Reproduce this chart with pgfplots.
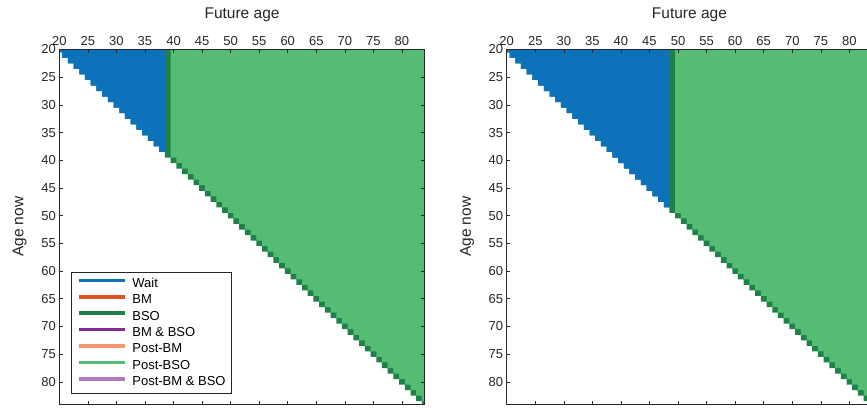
\documentclass[border=0pt]{standalone}
\usepackage{fontspec}
\setmainfont{Liberation Sans}
\usepackage{pgfplots}
\pgfplotsset{compat=1.18}
\usepackage{pgfplotstable}

\definecolor{cWait}{RGB}{14,114,186}
\definecolor{cBM}{RGB}{217,84,30}
\definecolor{cBSO}{RGB}{31,128,73}
\definecolor{cBMBSO}{RGB}{126,47,142}
\definecolor{cPostBM}{RGB}{247,150,110}
\definecolor{cPostBSO}{RGB}{85,188,116}
\definecolor{cPostBMBSO}{RGB}{176,122,190}
\definecolor{axgray}{RGB}{38,38,38}

% Upper triangle (future age >= age now), cells centred on integer ages
\pgfplotstableread[row sep=\\]{
x y\\
19.5 19.5\\ 84.5 19.5\\ 84.5 84.5\\
83.5 84.5\\ 83.5 83.5\\ 82.5 83.5\\ 82.5 82.5\\ 81.5 82.5\\ 81.5 81.5\\ 80.5 81.5\\ 80.5 80.5\\
79.5 80.5\\ 79.5 79.5\\ 78.5 79.5\\ 78.5 78.5\\ 77.5 78.5\\ 77.5 77.5\\ 76.5 77.5\\ 76.5 76.5\\ 75.5 76.5\\ 75.5 75.5\\
74.5 75.5\\ 74.5 74.5\\ 73.5 74.5\\ 73.5 73.5\\ 72.5 73.5\\ 72.5 72.5\\ 71.5 72.5\\ 71.5 71.5\\ 70.5 71.5\\ 70.5 70.5\\
69.5 70.5\\ 69.5 69.5\\ 68.5 69.5\\ 68.5 68.5\\ 67.5 68.5\\ 67.5 67.5\\ 66.5 67.5\\ 66.5 66.5\\ 65.5 66.5\\ 65.5 65.5\\
64.5 65.5\\ 64.5 64.5\\ 63.5 64.5\\ 63.5 63.5\\ 62.5 63.5\\ 62.5 62.5\\ 61.5 62.5\\ 61.5 61.5\\ 60.5 61.5\\ 60.5 60.5\\
59.5 60.5\\ 59.5 59.5\\ 58.5 59.5\\ 58.5 58.5\\ 57.5 58.5\\ 57.5 57.5\\ 56.5 57.5\\ 56.5 56.5\\ 55.5 56.5\\ 55.5 55.5\\
54.5 55.5\\ 54.5 54.5\\ 53.5 54.5\\ 53.5 53.5\\ 52.5 53.5\\ 52.5 52.5\\ 51.5 52.5\\ 51.5 51.5\\ 50.5 51.5\\ 50.5 50.5\\
49.5 50.5\\ 49.5 49.5\\ 48.5 49.5\\ 48.5 48.5\\ 47.5 48.5\\ 47.5 47.5\\ 46.5 47.5\\ 46.5 46.5\\ 45.5 46.5\\ 45.5 45.5\\
44.5 45.5\\ 44.5 44.5\\ 43.5 44.5\\ 43.5 43.5\\ 42.5 43.5\\ 42.5 42.5\\ 41.5 42.5\\ 41.5 41.5\\ 40.5 41.5\\ 40.5 40.5\\
39.5 40.5\\ 39.5 39.5\\ 38.5 39.5\\ 38.5 38.5\\ 37.5 38.5\\ 37.5 37.5\\ 36.5 37.5\\ 36.5 36.5\\ 35.5 36.5\\ 35.5 35.5\\
34.5 35.5\\ 34.5 34.5\\ 33.5 34.5\\ 33.5 33.5\\ 32.5 33.5\\ 32.5 32.5\\ 31.5 32.5\\ 31.5 31.5\\ 30.5 31.5\\ 30.5 30.5\\
29.5 30.5\\ 29.5 29.5\\ 28.5 29.5\\ 28.5 28.5\\ 27.5 28.5\\ 27.5 27.5\\ 26.5 27.5\\ 26.5 26.5\\ 25.5 26.5\\ 25.5 25.5\\
24.5 25.5\\ 24.5 24.5\\ 23.5 24.5\\ 23.5 23.5\\ 22.5 23.5\\ 22.5 22.5\\ 21.5 22.5\\ 21.5 21.5\\ 20.5 21.5\\ 20.5 20.5\\
19.5 20.5\\ 19.5 19.5\\
}\Atab

% Wait region, left panel (future age 20..38)
\pgfplotstableread[row sep=\\]{
x y\\
19.5 19.5\\ 38.5 19.5\\ 38.5 38.5\\
37.5 38.5\\ 37.5 37.5\\ 36.5 37.5\\ 36.5 36.5\\ 35.5 36.5\\ 35.5 35.5\\
34.5 35.5\\ 34.5 34.5\\ 33.5 34.5\\ 33.5 33.5\\ 32.5 33.5\\ 32.5 32.5\\ 31.5 32.5\\ 31.5 31.5\\ 30.5 31.5\\ 30.5 30.5\\
29.5 30.5\\ 29.5 29.5\\ 28.5 29.5\\ 28.5 28.5\\ 27.5 28.5\\ 27.5 27.5\\ 26.5 27.5\\ 26.5 26.5\\ 25.5 26.5\\ 25.5 25.5\\
24.5 25.5\\ 24.5 24.5\\ 23.5 24.5\\ 23.5 23.5\\ 22.5 23.5\\ 22.5 22.5\\ 21.5 22.5\\ 21.5 21.5\\ 20.5 21.5\\ 20.5 20.5\\
19.5 20.5\\ 19.5 19.5\\
}\Bone

% Wait region, right panel (future age 20..48)
\pgfplotstableread[row sep=\\]{
x y\\
19.5 19.5\\ 48.5 19.5\\ 48.5 48.5\\
47.5 48.5\\ 47.5 47.5\\ 46.5 47.5\\ 46.5 46.5\\ 45.5 46.5\\ 45.5 45.5\\
44.5 45.5\\ 44.5 44.5\\ 43.5 44.5\\ 43.5 43.5\\ 42.5 43.5\\ 42.5 42.5\\ 41.5 42.5\\ 41.5 41.5\\ 40.5 41.5\\ 40.5 40.5\\
39.5 40.5\\ 39.5 39.5\\ 38.5 39.5\\ 38.5 38.5\\ 37.5 38.5\\ 37.5 37.5\\ 36.5 37.5\\ 36.5 36.5\\ 35.5 36.5\\ 35.5 35.5\\
34.5 35.5\\ 34.5 34.5\\ 33.5 34.5\\ 33.5 33.5\\ 32.5 33.5\\ 32.5 32.5\\ 31.5 32.5\\ 31.5 31.5\\ 30.5 31.5\\ 30.5 30.5\\
29.5 30.5\\ 29.5 29.5\\ 28.5 29.5\\ 28.5 28.5\\ 27.5 28.5\\ 27.5 27.5\\ 26.5 27.5\\ 26.5 26.5\\ 25.5 26.5\\ 25.5 25.5\\
24.5 25.5\\ 24.5 24.5\\ 23.5 24.5\\ 23.5 23.5\\ 22.5 23.5\\ 22.5 22.5\\ 21.5 22.5\\ 21.5 21.5\\ 20.5 21.5\\ 20.5 20.5\\
19.5 20.5\\ 19.5 19.5\\
}\Btwo

% Post-BSO region, left panel (future age >= 40, strictly above diagonal)
\pgfplotstableread[row sep=\\]{
x y\\
39.5 19.5\\ 84.5 19.5\\ 84.5 83.5\\
83.5 83.5\\ 83.5 82.5\\ 82.5 82.5\\ 82.5 81.5\\ 81.5 81.5\\ 81.5 80.5\\ 80.5 80.5\\ 80.5 79.5\\
79.5 79.5\\ 79.5 78.5\\ 78.5 78.5\\ 78.5 77.5\\ 77.5 77.5\\ 77.5 76.5\\ 76.5 76.5\\ 76.5 75.5\\ 75.5 75.5\\ 75.5 74.5\\
74.5 74.5\\ 74.5 73.5\\ 73.5 73.5\\ 73.5 72.5\\ 72.5 72.5\\ 72.5 71.5\\ 71.5 71.5\\ 71.5 70.5\\ 70.5 70.5\\ 70.5 69.5\\
69.5 69.5\\ 69.5 68.5\\ 68.5 68.5\\ 68.5 67.5\\ 67.5 67.5\\ 67.5 66.5\\ 66.5 66.5\\ 66.5 65.5\\ 65.5 65.5\\ 65.5 64.5\\
64.5 64.5\\ 64.5 63.5\\ 63.5 63.5\\ 63.5 62.5\\ 62.5 62.5\\ 62.5 61.5\\ 61.5 61.5\\ 61.5 60.5\\ 60.5 60.5\\ 60.5 59.5\\
59.5 59.5\\ 59.5 58.5\\ 58.5 58.5\\ 58.5 57.5\\ 57.5 57.5\\ 57.5 56.5\\ 56.5 56.5\\ 56.5 55.5\\ 55.5 55.5\\ 55.5 54.5\\
54.5 54.5\\ 54.5 53.5\\ 53.5 53.5\\ 53.5 52.5\\ 52.5 52.5\\ 52.5 51.5\\ 51.5 51.5\\ 51.5 50.5\\ 50.5 50.5\\ 50.5 49.5\\
49.5 49.5\\ 49.5 48.5\\ 48.5 48.5\\ 48.5 47.5\\ 47.5 47.5\\ 47.5 46.5\\ 46.5 46.5\\ 46.5 45.5\\ 45.5 45.5\\ 45.5 44.5\\
44.5 44.5\\ 44.5 43.5\\ 43.5 43.5\\ 43.5 42.5\\ 42.5 42.5\\ 42.5 41.5\\ 41.5 41.5\\ 41.5 40.5\\ 40.5 40.5\\ 40.5 39.5\\
39.5 39.5\\
}\Cone

% Post-BSO region, right panel (future age >= 50, strictly above diagonal)
\pgfplotstableread[row sep=\\]{
x y\\
49.5 19.5\\ 84.5 19.5\\ 84.5 83.5\\
83.5 83.5\\ 83.5 82.5\\ 82.5 82.5\\ 82.5 81.5\\ 81.5 81.5\\ 81.5 80.5\\ 80.5 80.5\\ 80.5 79.5\\
79.5 79.5\\ 79.5 78.5\\ 78.5 78.5\\ 78.5 77.5\\ 77.5 77.5\\ 77.5 76.5\\ 76.5 76.5\\ 76.5 75.5\\ 75.5 75.5\\ 75.5 74.5\\
74.5 74.5\\ 74.5 73.5\\ 73.5 73.5\\ 73.5 72.5\\ 72.5 72.5\\ 72.5 71.5\\ 71.5 71.5\\ 71.5 70.5\\ 70.5 70.5\\ 70.5 69.5\\
69.5 69.5\\ 69.5 68.5\\ 68.5 68.5\\ 68.5 67.5\\ 67.5 67.5\\ 67.5 66.5\\ 66.5 66.5\\ 66.5 65.5\\ 65.5 65.5\\ 65.5 64.5\\
64.5 64.5\\ 64.5 63.5\\ 63.5 63.5\\ 63.5 62.5\\ 62.5 62.5\\ 62.5 61.5\\ 61.5 61.5\\ 61.5 60.5\\ 60.5 60.5\\ 60.5 59.5\\
59.5 59.5\\ 59.5 58.5\\ 58.5 58.5\\ 58.5 57.5\\ 57.5 57.5\\ 57.5 56.5\\ 56.5 56.5\\ 56.5 55.5\\ 55.5 55.5\\ 55.5 54.5\\
54.5 54.5\\ 54.5 53.5\\ 53.5 53.5\\ 53.5 52.5\\ 52.5 52.5\\ 52.5 51.5\\ 51.5 51.5\\ 51.5 50.5\\ 50.5 50.5\\ 50.5 49.5\\
49.5 49.5\\
}\Ctwo

\pgfplotsset{
  panel/.style={
    scale only axis, width=365.5bp, height=354.5bp,
    xmin=20, xmax=84, ymin=20, ymax=84, y dir=reverse,
    xtick={20,25,...,80}, ytick={20,25,...,80},
    minor tick num=0,
    xticklabel pos=top,
    tick align=inside, major tick length=3.5bp,
    every tick/.style={axgray, line width=0.6bp},
    axis line style={axgray, line width=0.8bp},
    /pgf/number format/assume math mode=true,
    tick label style={font=\fontsize{13bp}{15.6bp}\selectfont, text=axgray},
    xlabel={Future age}, ylabel={Age now},
    label style={font=\fontsize{15.5bp}{18.6bp}\selectfont, text=axgray},
    xlabel style={at={(axis description cs:0.5,1.088)}, anchor=base},
    ylabel style={at={(axis description cs:-0.098,0.5)}, anchor=base},
    axis on top,
  }
}

\begin{document}
\begin{tikzpicture}
\begin{axis}[panel, at={(59.3bp,-404bp)}, anchor=south west,
  legend style={at={(axis description cs:0.032,0.028)}, anchor=south west,
    draw=axgray, line width=0.6bp, fill=white,
    font=\fontsize{13bp}{15.6bp}\selectfont, text=black,
    inner xsep=6bp, inner ysep=5.5bp, column sep=5.5bp, row sep=4.4bp,
    nodes={inner sep=0pt, text height=9.5bp, text depth=2.5bp}},
  legend cell align=left,
  legend image code/.code={\draw[#1, line width=3.6bp] (0bp,3.5bp) -- (46bp,3.5bp);},
]
\addlegendimage{cWait}
\addlegendimage{cBM}
\addlegendimage{cBSO}
\addlegendimage{cBMBSO}
\addlegendimage{cPostBM}
\addlegendimage{cPostBSO}
\addlegendimage{cPostBMBSO}
\addplot[fill=cBSO, draw=none, forget plot] table[x=x, y=y] {\Atab};
\addplot[fill=cPostBSO, draw=none, forget plot] table[x=x, y=y] {\Cone};
\addplot[fill=cWait, draw=none, forget plot] table[x=x, y=y] {\Bone};
\legend{Wait, BM, BSO, BM \& BSO, Post-BM, Post-BSO, Post-BM \& BSO}
\end{axis}

\begin{axis}[panel, at={(506.7bp,-404bp)}, anchor=south west]
\addplot[fill=cBSO, draw=none, forget plot] table[x=x, y=y] {\Atab};
\addplot[fill=cPostBSO, draw=none, forget plot] table[x=x, y=y] {\Ctwo};
\addplot[fill=cWait, draw=none, forget plot] table[x=x, y=y] {\Btwo};
\end{axis}
\pgfresetboundingbox
\useasboundingbox (0bp,0bp) rectangle (867bp,-408bp);
\end{tikzpicture}
\end{document}
